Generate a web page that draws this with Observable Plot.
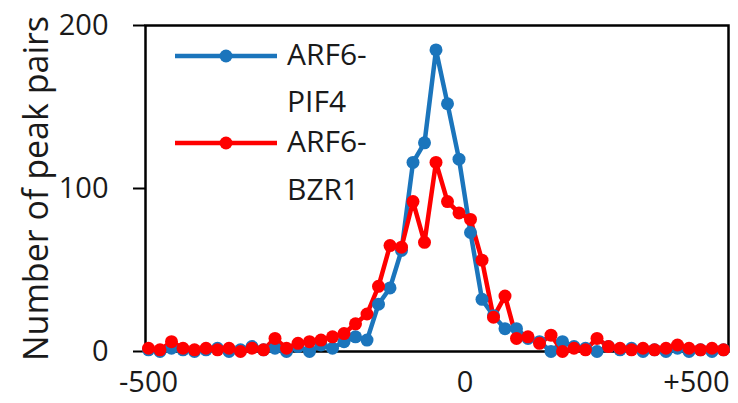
<!DOCTYPE html>
<html><head><meta charset="utf-8">
<script src="https://cdn.jsdelivr.net/npm/d3@7"></script>
<script src="https://cdn.jsdelivr.net/npm/@observablehq/plot@0.6"></script>
<style>body{margin:0;background:#fff;} #chart svg{display:block;}</style>
</head><body><div id="chart"></div>
<script>
// Distance bins (bp)
const distance = [-500,-480,-460,-440,-420,-400,-380,-360,-340,-320,-300,-280,-260,-240,-220,-200,-180,-160,-140,-120,-100,-80,-60,-40,-20,0,20,40,60,80,100,120,140,160,180,200,220,240,260,280,300,320,340,360,380,400,420,440,460,480,500];
// Number of peak pairs
const pif4 = [1,0,2,1,0,1,2,0,1,3,1,2,0,3,0,4,2,6,9,7,29,39,62,116,128,185,152,118,73,32,22,14,14,8,6,0,6,3,2,0,3,1,2,0,1,0,2,0,1,0,1];
const bzr1 = [2,1,6,2,1,2,1,2,0,2,1,8,2,5,6,7,9,11,17,23,40,65,64,92,67,116,92,85,81,56,21,34,8,9,5,10,0,2,1,8,3,2,1,2,1,2,4,2,1,2,1];
const seriesNames = ["ARF6-PIF4", "ARF6-BZR1"];
const legendLines = [["ARF6-", "PIF4"], ["ARF6-", "BZR1"]];
const colors = ["#1B75BC", "#FF0000"];
const yTicks = [0, 100, 200];
const xTickValues = [-500, 0, 500];
const xTickLabels = ["-500", "0", "+500"];
const yLabel = "Number of peak pairs";

const data = [];
distance.forEach((d, i) => data.push({series: seriesNames[0], x: d, y: pif4[i]}));
distance.forEach((d, i) => data.push({series: seriesNames[1], x: d, y: bzr1[i]}));

const font = "'Open Sans', sans-serif";
const textColor = "#1a1a1a";
const fmt = v => xTickLabels[xTickValues.indexOf(v)];

const chart = Plot.plot({
  width: 738,
  height: 403,
  marginLeft: 145,
  marginRight: 10,
  marginTop: 25,
  marginBottom: 52,
  style: {fontFamily: font, color: textColor, background: "#fff"},
  x: {domain: [-500, 500], insetLeft: 3, insetRight: 5},
  y: {domain: [0, 200]},
  color: {domain: seriesNames, range: colors},
  marks: [
    Plot.frame({stroke: "black", strokeWidth: 2.5}),
    Plot.axisY(yTicks, {tickSize: 12, tickPadding: 25, fontSize: 29, stroke: "black", strokeWidth: 2, label: null}),
    Plot.axisX([xTickValues[0]], {tickSize: 0, tickPadding: 20, fontSize: 29, tickFormat: fmt, label: null}),
    Plot.axisX([xTickValues[1]], {tickSize: 0, tickPadding: 20, fontSize: 29, tickFormat: fmt, dx: 29, label: null}),
    Plot.axisX([xTickValues[2]], {tickSize: 0, tickPadding: 20, fontSize: 29, tickFormat: fmt, textAnchor: "end", dx: 6, label: null}),
    Plot.text([yLabel], {frameAnchor: "left", dx: -108, rotate: -90, fontSize: 34, textAnchor: "middle", lineAnchor: "middle", fill: textColor}),
    Plot.line(data, {x: "x", y: "y", z: "series", stroke: "series", strokeWidth: 4.5}),
    Plot.dot(data, {x: "x", y: "y", fill: "series", r: 6.5})
  ]
});

// legend inside the plot area
const svg = d3.select(chart);
const lg = svg.append("g").attr("font-family", font).attr("font-size", 30).attr("fill", textColor).attr("text-anchor", "start");
const rowsY = [56, 143];
const lineYs = [[65, 112], [152, 200]];
seriesNames.forEach((s, i) => {
  lg.append("line").attr("x1", 175).attr("x2", 277).attr("y1", rowsY[i]).attr("y2", rowsY[i])
    .attr("stroke", colors[i]).attr("stroke-width", 4.5);
  lg.append("circle").attr("cx", 226).attr("cy", rowsY[i]).attr("r", 6.5).attr("fill", colors[i]);
  legendLines[i].forEach((t, j) => {
    lg.append("text").attr("x", 287).attr("y", lineYs[i][j]).attr("text-anchor", "start").style("font-size", "30px").text(t);
  });
});

document.getElementById("chart").appendChild(chart);
</script>
</body></html>
